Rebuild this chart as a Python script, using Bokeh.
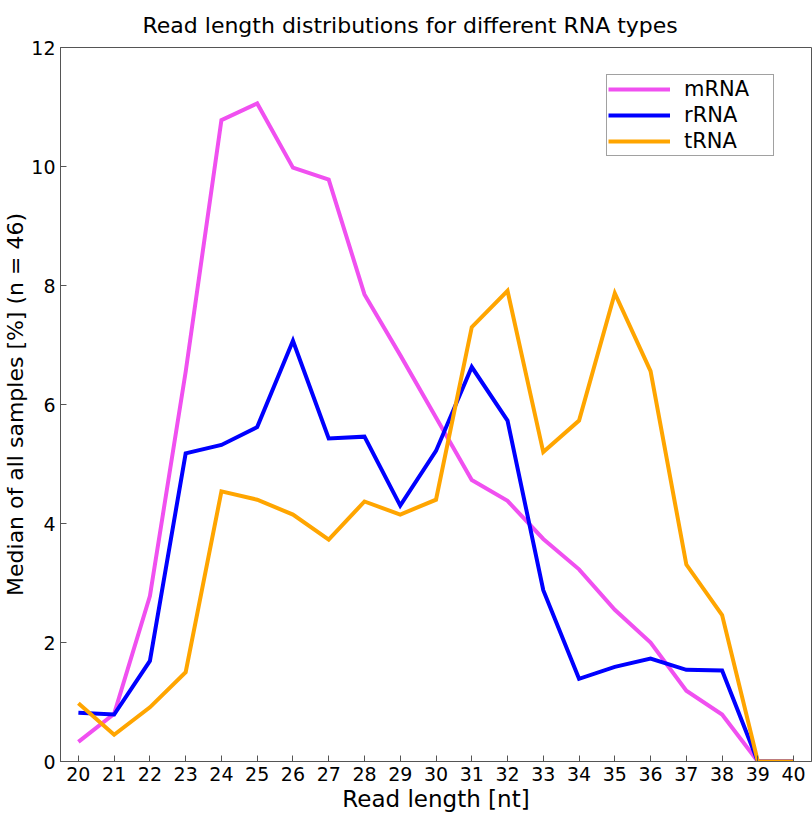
from bokeh.plotting import figure
from bokeh.models import Range1d, FixedTicker, Legend, LegendItem
from bokeh.embed import file_html
from bokeh.resources import INLINE

read_length = list(range(20, 41))
mrna = [0.33, 0.80, 2.78, 6.55, 10.78, 11.06, 9.98, 9.78, 7.85, 6.83, 5.78, 4.73,
        4.38, 3.74, 3.23, 2.55, 2.00, 1.19, 0.79, 0.0, 0.0]
rrna = [0.82, 0.79, 1.69, 5.18, 5.32, 5.62, 7.07, 5.43, 5.46, 4.30, 5.22, 6.63,
        5.73, 2.88, 1.39, 1.59, 1.73, 1.54, 1.53, 0.0, 0.0]
trna = [0.98, 0.45, 0.91, 1.50, 4.54, 4.40, 4.15, 3.73, 4.37, 4.15, 4.40, 7.30,
        7.91, 5.20, 5.73, 7.87, 6.56, 3.31, 2.46, 0.0, 0.0]
series_names = ["mRNA", "rRNA", "tRNA"]
series_colors = ["#f050f0", "#0000ff", "#ffa500"]
y_ticks = [0, 2, 4, 6, 8, 10, 12]

FONT = "DejaVu Sans"

p = figure(width=812, height=816, output_backend="svg", toolbar_location=None,
           x_range=Range1d(19.5, 40.5), y_range=Range1d(0, 12),
           title="Read length distributions for different RNA types",
           min_border_left=58, min_border_right=1, min_border_top=46, min_border_bottom=55)

p.title.text_font = FONT
p.title.text_font_size = "22px"
p.title.text_font_style = "normal"
p.title.align = "left"
p.title.offset = 82
p.title.standoff = 20
p.title.text_line_height = 0.5
p.title.text_color = "#000000"

p.xgrid.visible = False
p.ygrid.visible = False
p.outline_line_color = "#555555"
p.outline_line_width = 1
p.background_fill_color = "white"
p.border_fill_color = "white"

p.xaxis.ticker = FixedTicker(ticks=read_length)
p.yaxis.ticker = FixedTicker(ticks=y_ticks)
for ax in (p.xaxis, p.yaxis):
    ax.axis_line_color = "#555555"
    ax.major_tick_line_color = "#555555"
    ax.major_tick_in = 6
    ax.major_tick_out = 0
    ax.minor_tick_line_color = None
    ax.major_label_text_font = FONT
    ax.major_label_text_font_size = "19px"
    ax.major_label_text_color = "#000000"
    ax.axis_label_text_font = FONT
    ax.axis_label_text_font_size = "22px"
    ax.axis_label_text_font_style = "normal"
    ax.axis_label_text_color = "#000000"
    ax.axis_label_standoff = 0
p.xaxis.major_label_standoff = 5
p.yaxis.major_label_standoff = 5
p.xaxis.axis_label_text_font_size = "23px"
p.xaxis.axis_label_standoff = 2
p.xaxis.axis_label = "Read length [nt]"
p.yaxis.axis_label = "Median of all samples [%] (n = 46)"

items = []
for name, vals, col in zip(series_names, [mrna, rrna, trna], series_colors):
    r = p.line(read_length, vals, line_color=col, line_width=4, line_join="miter")
    items.append(LegendItem(label=name, renderers=[r]))

legend = Legend(items=items, location=(546, 605))
legend.padding = 1
legend.spacing = 0
legend.glyph_width = 62
legend.glyph_height = 26
legend.label_height = 26
legend.label_width = 88
legend.label_standoff = 14
legend.label_text_font = FONT
legend.label_text_font_size = "21px"
legend.label_text_color = "#000000"
legend.border_line_color = "#444444"
legend.border_line_width = 1
legend.background_fill_color = "white"
p.add_layout(legend, "center")

open("out.html", "w").write(file_html(p, INLINE))
